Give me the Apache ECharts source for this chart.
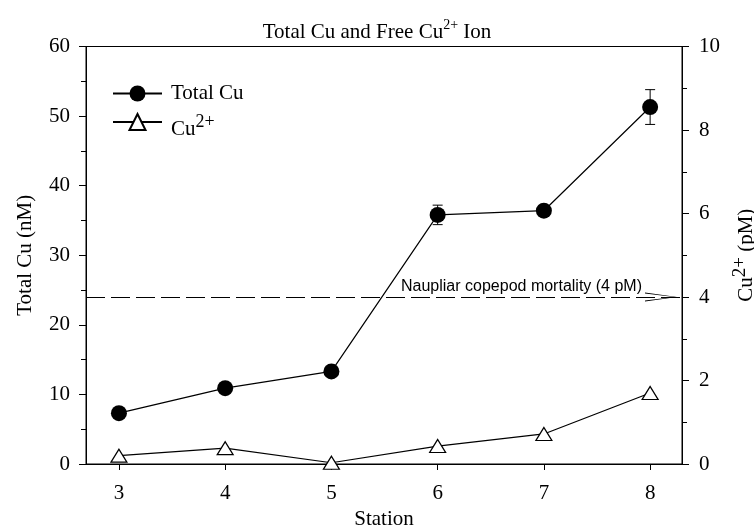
<!DOCTYPE html>
<html>
<head>
<meta charset="utf-8">
<script src="https://cdn.jsdelivr.net/npm/echarts@6/dist/echarts.min.js"></script>
<style>
  html, body { margin: 0; padding: 0; background: #fff; }
  #chart { width: 754px; height: 527px; }
</style>
</head>
<body>
<div id="chart"></div>
<script>
// data
const stations = [3, 4, 5, 6, 7, 8];
const totalCu = [7.3, 10.9, 13.3, 35.8, 36.4, 51.3];     // nM
const totalCuErr = [0.3, 0.3, 0.3, 1.4, 0.3, 2.5];        // nM
const freeCu = [0.2, 0.38, 0.03, 0.43, 0.72, 1.7];        // pM
const mortalityLevel = 24;                                // nM on left axis == 4 pM on right axis
const xTicks = [3, 4, 5, 6, 7, 8];

const serif = 'Liberation Serif';
const chart = echarts.init(document.getElementById('chart'));

// open arrow head; the tiny speck at the top only pushes the tip back from the line end
const chevron = 'path://M5,0 L10,32 L9,32 L5,3 L1,32 L0,32 Z M4.95,-42 L5.05,-42 L5,-41.95 Z';

const option = {
    animation: false,
    backgroundColor: '#fff',
    title: {
        text: '{a|Total Cu and Free Cu}{s|2+}{a| Ion}',
        left: 'center',
        top: 13,
        textStyle: {
            rich: {
                a: { fontFamily: serif, fontSize: 21, fontWeight: 'normal', color: '#000', lineHeight: 28 },
                s: { fontFamily: serif, fontSize: 14, fontWeight: 'normal', color: '#000', lineHeight: 14, verticalAlign: 'top' }
            }
        }
    },
    legend: {
        left: 107,
        top: 78,
        orient: 'vertical',
        itemWidth: 49,
        itemHeight: 20,
        itemGap: 9,
        data: ['Total Cu', 'Cu2+'],
        formatter: function (name) {
            return name === 'Cu2+' ? '{c|Cu}{s|2+}' : '{b|' + name + '}';
        },
        textStyle: {
            padding: [0, 0, 0, 4],
            rich: {
                b: { fontFamily: serif, fontSize: 21, color: '#000', lineHeight: 24 },
                c: { fontFamily: serif, fontSize: 21, color: '#000', lineHeight: 24, verticalAlign: 'bottom' },
                s: { fontFamily: serif, fontSize: 18, color: '#000', lineHeight: 36 }
            }
        }
    },
    grid: {
        left: 86,
        right: 72,
        top: 46.5,
        bottom: 63,
        outerBoundsMode: 'none',
        show: true,
        borderColor: '#000',
        borderWidth: 1
    },
    xAxis: {
        type: 'value',
        min: 2.69,
        max: 8.3,
        name: 'Station',
        nameLocation: 'middle',
        nameGap: 44,
        nameTextStyle: { fontFamily: serif, fontSize: 21, color: '#000' },
        axisLine: { lineStyle: { color: '#000', width: 1 } },
        axisTick: { inside: false, length: 6, customValues: xTicks, lineStyle: { color: '#000' } },
        axisLabel: { customValues: xTicks, fontFamily: serif, fontSize: 21, color: '#000', margin: 19 },
        splitLine: { show: false }
    },
    yAxis: [
        {
            type: 'value',
            min: 0,
            max: 60,
            interval: 10,
            name: 'Total Cu (nM)',
            nameLocation: 'middle',
            nameGap: 50,
            nameTextStyle: { fontFamily: serif, fontSize: 21, color: '#000' },
            axisLine: { show: true, lineStyle: { color: '#000', width: 1 } },
            axisTick: { show: true, length: 7, lineStyle: { color: '#000' } },
            minorTick: { show: true, splitNumber: 2, length: 5, lineStyle: { color: '#000' } },
            axisLabel: { fontFamily: serif, fontSize: 21, color: '#000', margin: 16 },
            splitLine: { show: false }
        },
        {
            type: 'value',
            min: 0,
            max: 10,
            interval: 2,
            position: 'right',
            name: '{c|Cu}{s|2+}{c| (pM)}',
            nameLocation: 'middle',
            nameGap: 40,
            nameRotate: 90,
            nameTextStyle: {
                rich: {
                    c: { fontFamily: serif, fontSize: 21, color: '#000', lineHeight: 24, verticalAlign: 'bottom' },
                    s: { fontFamily: serif, fontSize: 19, color: '#000', lineHeight: 34 }
                }
            },
            axisLine: { show: true, lineStyle: { color: '#000', width: 1 } },
            axisTick: { show: true, length: 7, lineStyle: { color: '#000' } },
            minorTick: { show: true, splitNumber: 2, length: 5, lineStyle: { color: '#000' } },
            axisLabel: { fontFamily: serif, fontSize: 21, color: '#000', margin: 17 },
            splitLine: { show: false }
        }
    ],
    series: [
        {
            name: 'Total Cu',
            type: 'line',
            yAxisIndex: 0,
            data: stations.map((s, i) => [s, totalCu[i]]),
            symbol: 'circle',
            symbolSize: 16,
            z: 4,
            lineStyle: { color: '#000', width: 1.2 },
            itemStyle: { color: '#000', borderColor: '#000', borderWidth: 0 },
            markLine: {
                silent: true,
                symbol: ['none', chevron],
                symbolSize: [9, 74],
                lineStyle: { color: '#000', width: 1, type: [19, 6] },
                label: {
                    show: true,
                    position: 'insideEndTop',
                    distance: [40, 2],
                    formatter: 'Naupliar copepod mortality (4 pM)',
                    fontFamily: 'Liberation Sans',
                    fontSize: 16,
                    color: '#000'
                },
                data: [{ yAxis: mortalityLevel }]
            }
        },
        {
            name: 'Total Cu error',
            type: 'custom',
            yAxisIndex: 0,
            z: 3,
            data: stations.map((s, i) => [s, totalCu[i] - totalCuErr[i], totalCu[i] + totalCuErr[i]]),
            renderItem: function (params, api) {
                const lo = api.coord([api.value(0), api.value(1)]);
                const hi = api.coord([api.value(0), api.value(2)]);
                const w = 5;
                const style = { stroke: '#000', lineWidth: 1 };
                return {
                    type: 'group',
                    children: [
                        { type: 'line', shape: { x1: lo[0], y1: lo[1], x2: hi[0], y2: hi[1] }, style: style },
                        { type: 'line', shape: { x1: lo[0] - w, y1: lo[1], x2: lo[0] + w, y2: lo[1] }, style: style },
                        { type: 'line', shape: { x1: hi[0] - w, y1: hi[1], x2: hi[0] + w, y2: hi[1] }, style: style }
                    ]
                };
            }
        },
        {
            name: 'Cu2+',
            type: 'line',
            yAxisIndex: 1,
            data: stations.map((s, i) => [s, freeCu[i]]),
            symbol: 'triangle',
            symbolSize: [16, 13],
            z: 4,
            lineStyle: { color: '#000', width: 1.2 },
            itemStyle: { color: '#fff', borderColor: '#000', borderWidth: 1.2 }
        }
    ]
};

chart.setOption(option);
</script>
</body>
</html>
